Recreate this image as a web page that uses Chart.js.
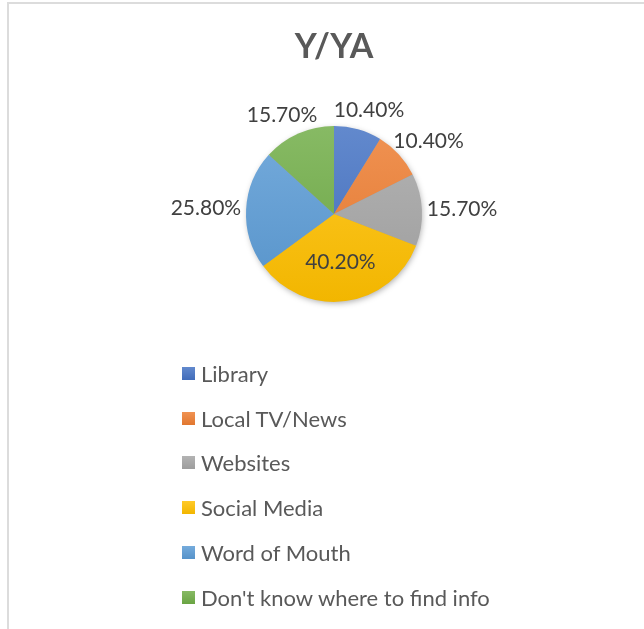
<!DOCTYPE html>
<html>
<head>
<meta charset="utf-8">
<title>Y/YA</title>
<script src="https://cdn.jsdelivr.net/npm/chart.js@4/dist/chart.umd.min.js"></script>
<style>
    html, body { margin: 0; padding: 0; background: #fff; }
    body { width: 644px; height: 629px; overflow: hidden; position: relative; font-family: Lato, "Open Sans", sans-serif; }
    .frame { position: absolute; left: 7px; top: 2px; width: 700px; height: 700px; border-top: 2px solid #dcdcdc; border-left: 2px solid #dcdcdc; }
    #yya-chart { position: absolute; left: 0; top: 0; }
    #legend { position: absolute; left: 182px; top: 351px; margin: 0; padding: 0; list-style: none; }
    #legend li { display: flex; align-items: center; height: 44.8px; font-size: 22px; color: #595959; white-space: nowrap; }
    #legend .key { display: inline-block; width: 13px; height: 13px; margin-right: 6px; }
</style>
</head>
<body>
<div class="frame"></div>
<canvas id="yya-chart" width="644" height="629"></canvas>
<ul id="legend"></ul>
<script>
const categories = ["Library", "Local TV/News", "Websites", "Social Media", "Word of Mouth", "Don't know where to find info"];
const shares = [10.4, 10.4, 15.7, 40.2, 25.8, 15.7];
const sliceColors = ["#4472C4", "#ED7D31", "#A5A5A5", "#FFC000", "#5B9BD5", "#70AD47"];

const shareLabels = shares.map(v => v.toFixed(2) + "%");
const totalShare = shares.reduce((a, b) => a + b, 0);

// blend a hex colour toward another one
function mix(hex, other, t) {
    const a = parseInt(hex.slice(1), 16), b = parseInt(other.slice(1), 16);
    const ch = (n, s) => (n >> s) & 255;
    const r = Math.round(ch(a, 16) + (ch(b, 16) - ch(a, 16)) * t);
    const g = Math.round(ch(a, 8) + (ch(b, 8) - ch(a, 8)) * t);
    const bl = Math.round(ch(a, 0) + (ch(b, 0) - ch(a, 0)) * t);
    return "rgb(" + r + "," + g + "," + bl + ")";
}

// soft drop shadow under the whole pie
const pieShadow = {
    id: "pieShadow",
    beforeDatasetsDraw(chart) {
        const arc = chart.getDatasetMeta(0).data[0];
        if (!arc) return;
        const c = chart.ctx;
        c.save();
        c.shadowColor = "rgba(0,0,0,0.35)";
        c.shadowBlur = 6;
        c.shadowOffsetX = 1;
        c.shadowOffsetY = 2;
        c.fillStyle = "#999";
        c.beginPath();
        c.arc(arc.x, arc.y, arc.outerRadius - 1, 0, Math.PI * 2);
        c.fill();
        c.restore();
    }
};

// percentage labels: inside for the big slice, outside end for the rest
const sliceLabels = {
    id: "sliceLabels",
    afterDatasetsDraw(chart) {
        const c = chart.ctx;
        const meta = chart.getDatasetMeta(0);
        c.save();
        c.font = "21px Lato";
        c.fillStyle = "#404040";
        c.textAlign = "center";
        c.textBaseline = "middle";
        meta.data.forEach((arc, i) => {
            const p = arc.getProps(["x", "y", "startAngle", "endAngle", "outerRadius"], true);
            const mid = (p.startAngle + p.endAngle) / 2;
            const dx = Math.cos(mid), dy = Math.sin(mid);
            const text = shareLabels[i];
            let px, py;
            if (shares[i] / totalShare > 0.3) {
                px = p.x + dx * p.outerRadius * 0.55;
                py = p.y + dy * p.outerRadius * 0.55;
            } else {
                const w = c.measureText(text).width, h = 30;
                const r = p.outerRadius + 5;
                px = p.x + dx * r + dx * w / 2;
                py = p.y + dy * r + dy * h / 2;
            }
            c.fillText(text, px, py);
        });
        c.restore();
    }
};

const chartCtx = document.getElementById("yya-chart").getContext("2d");

new Chart(chartCtx, {
    type: "pie",
    data: {
        labels: categories,
        datasets: [{
            data: shares,
            backgroundColor: function (ctx) {
                const base = sliceColors[ctx.dataIndex];
                const area = ctx.chart.chartArea;
                if (!area) return base;
                const g = ctx.chart.ctx.createLinearGradient(0, area.top, 0, area.bottom);
                g.addColorStop(0, mix(base, "#ffffff", 0.16));
                g.addColorStop(1, mix(base, "#000000", 0.05));
                return g;
            },
            borderWidth: 0
        }]
    },
    options: {
        responsive: false,
        animation: false,
        layout: { padding: { left: 246, right: 222, top: 0, bottom: 327 } },
        plugins: {
            legend: { display: false },
            tooltip: { enabled: false },
            title: {
                display: true,
                text: "Y/YA",
                color: "#595959",
                font: { family: "Lato", size: 34, weight: "bold" },
                padding: { top: 27, bottom: 58 }
            }
        }
    },
    plugins: [pieShadow, sliceLabels]
});

// legend list, one row per category
const legendEl = document.getElementById("legend");
categories.forEach((name, i) => {
    const li = document.createElement("li");
    const key = document.createElement("span");
    key.className = "key";
    key.style.background = "linear-gradient(" + mix(sliceColors[i], "#ffffff", 0.16) + "," + mix(sliceColors[i], "#000000", 0.05) + ")";
    li.appendChild(key);
    li.appendChild(document.createTextNode(name));
    legendEl.appendChild(li);
});
</script>
</body>
</html>
